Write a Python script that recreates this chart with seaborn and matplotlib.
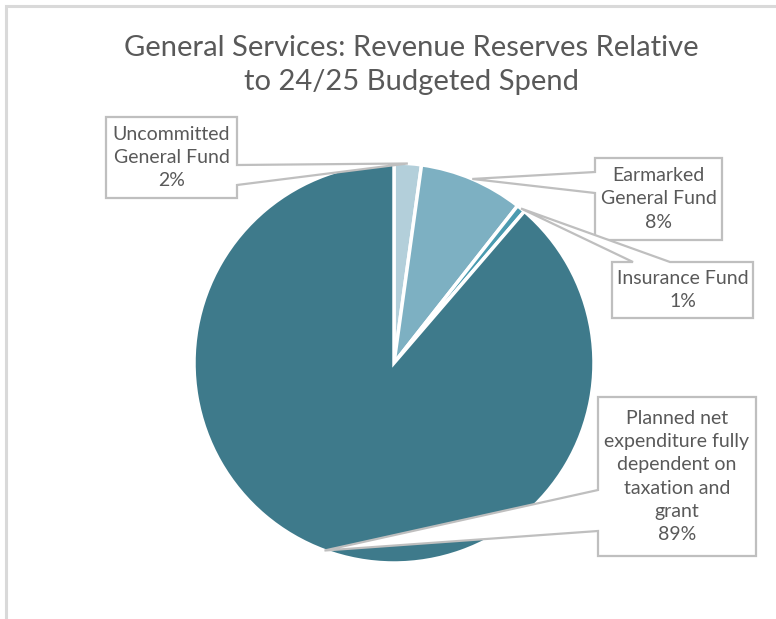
import matplotlib
matplotlib.use("Agg")
import matplotlib.pyplot as plt
from matplotlib.patches import Polygon, Rectangle
import numpy as np
import seaborn as sns

# Reserve shares of 24/25 budgeted spend (percent)
categories = [
    "Uncommitted\nGeneral Fund",
    "Earmarked\nGeneral Fund",
    "Insurance Fund",
    "Planned net\nexpenditure fully\ndependent on\ntaxation and\ngrant",
]
shares = [2.2, 8.4, 0.7, 88.7]
slice_colors = ["#B3CFDA", "#7DB0C2", "#4B9BB0", "#3E7A8B"]
title_text = "General Services: Revenue Reserves Relative\nto 24/25 Budgeted Spend"

sns.set_theme(style="white")
plt.rcParams["font.family"] = ["Lato", "DejaVu Sans"]

W, H = 776, 619
fig = plt.figure(figsize=(W / 100, H / 100), dpi=100)
ax = fig.add_axes([0, 0, 1, 1])


def P(x, y):
    """Pixel position (y measured downward) to axes data coordinates."""
    return (x, H - y)


cx, cy = P(394, 363)
R = 200
START = 90
ax.pie(
    shares,
    colors=slice_colors,
    startangle=START,
    counterclock=False,
    center=(cx, cy),
    radius=R,
    wedgeprops=dict(edgecolor="white", linewidth=2.5, zorder=1),
)
ax.set_xlim(0, W)
ax.set_ylim(0, H)
ax.set_aspect("equal")
ax.axis("off")

# Callout boxes: (left, top, right, bottom), side holding the pointer, pointer base span
callouts = [
    ((106, 117, 237, 198), "right", (165, 185)),
    ((595, 158, 722, 240), "left", (172, 193)),
    ((612, 262, 753, 318), "top", (633, 670)),
    ((598, 397, 756, 556), "left", (490, 531)),
]

text_color = "#595959"
edge_color = "#BFBFBF"

total = sum(shares)
cum = np.concatenate([[0], np.cumsum(shares)])
for i, (name, value, (box, side, base)) in enumerate(zip(categories, shares, callouts)):
    # pointer tip sits on the rim at the middle of the slice (slices run clockwise)
    frac = (cum[i] + value / 2) / total
    mid = np.deg2rad(START - 360 * frac)
    tip = (cx + R * np.cos(mid), cy + R * np.sin(mid))
    x0, y0, x1, y1 = box
    a, b = base
    if side == "right":
        pts = [P(x0, y0), P(x1, y0), P(x1, a), tip, P(x1, b), P(x1, y1), P(x0, y1)]
    elif side == "left":
        pts = [P(x0, y0), P(x1, y0), P(x1, y1), P(x0, y1), P(x0, b), tip, P(x0, a)]
    else:
        pts = [P(x0, y0), P(a, y0), tip, P(b, y0), P(x1, y0), P(x1, y1), P(x0, y1)]
    ax.add_patch(Polygon(pts, closed=True, facecolor="white", edgecolor=edge_color,
                         linewidth=1.6, zorder=3, joinstyle="miter"))
    tx, ty = P((x0 + x1) / 2, (y0 + y1) / 2)
    ax.text(tx, ty, f"{name}\n{round(value)}%", ha="center", va="center",
            fontsize=14, color=text_color, linespacing=1.45, zorder=4)

# Chart-area frame
ax.add_patch(Rectangle(P(6, H + 10), W + 10, H + 4, fill=False,
                       edgecolor="#D9D9D9", linewidth=2.2, zorder=0))

tx, ty = P(411, 65)
ax.text(tx, ty, title_text, ha="center", va="center", fontsize=21,
        color=text_color, linespacing=1.42)

fig.savefig("out.png", dpi=100, facecolor="white")
